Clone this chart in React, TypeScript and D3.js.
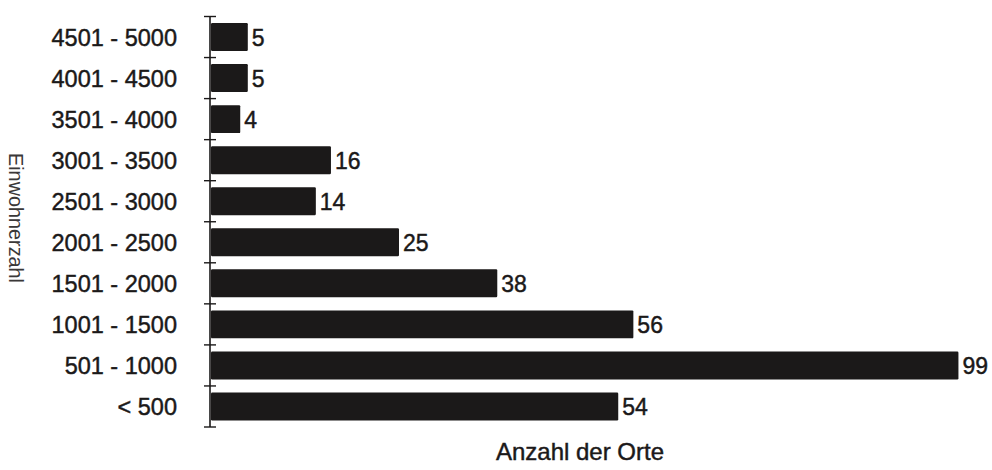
import React from "react";
import * as d3 from "d3";

// Einwohnerzahl-Klassen (von oben nach unten) und Anzahl der Orte
const categories = [
  "4501 - 5000",
  "4001 - 4500",
  "3501 - 4000",
  "3001 - 3500",
  "2501 - 3000",
  "2001 - 2500",
  "1501 - 2000",
  "1001 - 1500",
  "501 - 1000",
  "< 500",
];
const counts = [5, 5, 4, 16, 14, 25, 38, 56, 99, 54];

const xTitle = "Anzahl der Orte";
const yTitle = "Einwohnerzahl";

const W = 992;
const H = 470;
const axisX = 210;
const top = 16.5;
const bottom = 427;
const font = "'Liberation Sans', Arial, Helvetica, sans-serif";
const ink = "#1b1919";

export default function App() {
  const x = d3.scaleLinear().domain([0, 100]).range([axisX, axisX + 756]);
  const y = d3
    .scaleBand<string>()
    .domain(categories)
    .range([top, bottom])
    .paddingInner(0.32)
    .paddingOuter(0.16);

  const step = y.step();
  const tickYs = d3.range(categories.length + 1).map((i) => top + i * step);

  const textStyle = { stroke: ink, strokeWidth: 0.45 };

  return (
    <svg
      width={W}
      height={H}
      style={{ position: "absolute", left: 0, top: 0, background: "#fff" }}
    >
      {/* bars */}
      {categories.map((c, i) => (
        <rect
          key={c}
          x={x(0) + 1}
          y={y(c)!}
          width={x(counts[i]) - x(0) - 1}
          height={y.bandwidth()}
          fill={ink}
          rx={1.2}
        />
      ))}

      {/* category axis */}
      <line x1={axisX} x2={axisX} y1={top} y2={bottom} stroke={ink} strokeWidth={1.6} />
      {tickYs.map((ty, i) => (
        <line
          key={i}
          x1={axisX - 6}
          x2={axisX + 6}
          y1={ty}
          y2={ty}
          stroke={ink}
          strokeWidth={1.4}
        />
      ))}

      {/* category labels */}
      {categories.map((c) => (
        <text
          key={c}
          x={177}
          y={y(c)! + y.bandwidth() / 2 + 1}
          textAnchor="end"
          dominantBaseline="central"
          fontFamily={font}
          fontSize={23.5}
          fill={ink}
          style={textStyle}
        >
          {c}
        </text>
      ))}

      {/* value labels */}
      {categories.map((c, i) => (
        <text
          key={c}
          x={x(counts[i]) + 4}
          y={y(c)! + y.bandwidth() / 2 + 1}
          dominantBaseline="central"
          fontFamily={font}
          fontSize={23}
          fill={ink}
          style={textStyle}
        >
          {counts[i]}
        </text>
      ))}

      {/* axis titles */}
      <text
        x={580}
        y={460}
        textAnchor="middle"
        fontFamily={font}
        fontSize={24}
        fill={ink}
        style={textStyle}
      >
        {xTitle}
      </text>
      <text
        transform={`translate(9, 218) rotate(90)`}
        textAnchor="middle"
        fontFamily={font}
        fontSize={21}
        fill="#3a3838"
        textLength={130}
        lengthAdjust="spacingAndGlyphs"
      >
        {yTitle}
      </text>
    </svg>
  );
}
